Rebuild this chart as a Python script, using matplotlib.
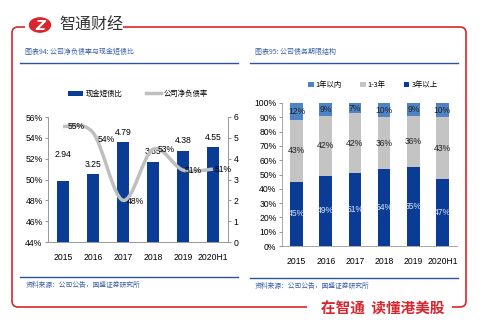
import numpy as np
import matplotlib
matplotlib.use("Agg")
import matplotlib.pyplot as plt
from matplotlib.path import Path
from matplotlib.patches import PathPatch, Circle

plt.rcParams['font.family'] = ['Liberation Sans', 'Noto Sans CJK SC', 'DejaVu Sans']

# left chart: cash / short-term debt ratio and net gearing
years = ['2015', '2016', '2017', '2018', '2019', '2020H1']
cash_ratio = [2.94, 3.25, 4.79, 3.85, 4.38, 4.55]
net_debt = [55.1, 54.5, 48.0, 52.9, 50.9, 51.0]
net_debt_labels = ['55%', '54%', '48%', '53%', '51%', '51%']

# right chart: debt maturity structure (%)
within_1y = [12, 9, 7, 10, 9, 10]
one_to_3y = [43, 42, 42, 36, 36, 43]
over_3y = [45, 49, 51, 54, 55, 47]

W, H = 483, 328
DARK = '#0a3c96'
LIGHT = '#4f83c8'
GREY = '#bfbfbf'
RED = '#d7262e'
TITLE_BLUE = '#3a5fa8'
cjk = ['Noto Sans CJK SC', 'DejaVu Sans']

fig = plt.figure(figsize=(W / 100, H / 100), dpi=100)
fig.patch.set_facecolor('white')


def px(x, y):
    return x / W, 1 - y / H


def ax_at(x0, y0, x1, y1):
    return fig.add_axes([x0 / W, 1 - y1 / H, (x1 - x0) / W, (y1 - y0) / H])


def hline(x0, x1, y, color, lw):
    fig.add_artist(plt.Line2D([x0 / W, x1 / W], [1 - y / H, 1 - y / H],
                              color=color, lw=lw, transform=fig.transFigure))


# red frame with rounded corners
codes = [Path.MOVETO, Path.LINETO, Path.CURVE3, Path.CURVE3, Path.LINETO,
         Path.CURVE3, Path.CURVE3, Path.LINETO]
verts = [px(123, 27), px(460, 27), px(466, 27), px(466, 33), px(466, 301),
         px(466, 307), px(460, 307), px(452, 307)]
fig.add_artist(PathPatch(Path(verts, codes), fill=False, ec=RED, lw=1.2,
                         transform=fig.transFigure))
verts = [px(25, 27), px(18, 27), px(12, 27), px(12, 33), px(12, 301),
         px(12, 307), px(18, 307), px(307, 307)]
fig.add_artist(PathPatch(Path(verts, codes), fill=False, ec=RED, lw=1.2,
                         transform=fig.transFigure))

# logo
fig.add_artist(Circle(px(40, 25), 10.5 / W, color=RED, transform=fig.transFigure))
fig.text(*px(40, 25.5), 'Z', color='white', fontsize=10, fontweight='bold',
         style='italic', ha='center', va='center', family='DejaVu Sans')
fig.text(*px(59, 25), '智通财经', fontsize=11.5, color='#333333', va='center',
         family=cjk)
fig.text(*px(383, 309), '在智通  读懂港美股', fontsize=10.5, color=RED,
         fontweight='bold', ha='center', va='center', family=cjk)

# panel titles, rules and sources
fig.text(*px(25, 52), '图表94: 公司净负债率与现金短债比', fontsize=5,
         color=TITLE_BLUE, va='center', family=cjk, style='italic')
fig.text(*px(255, 52), '图表95: 公司债务期限结构', fontsize=5,
         color=TITLE_BLUE, va='center', family=cjk, style='italic')
hline(20, 238, 63, '#2b55a0', 1.0)
hline(250, 458, 63, '#2b55a0', 1.0)
hline(20, 238, 277, '#2b55a0', 1.0)
hline(250, 458, 278, '#2b55a0', 1.0)
fig.text(*px(26, 285), '资料来源：公司公告，国盛证券研究所', fontsize=4.9,
         color=TITLE_BLUE, va='center', family=cjk, style='italic')
fig.text(*px(255, 286), '资料来源：公司公告，国盛证券研究所', fontsize=4.9,
         color=TITLE_BLUE, va='center', family=cjk, style='italic')

x = np.arange(len(years))
tick_fs = 6.2

# ---- left chart ----
axl = ax_at(48, 117, 228, 242)
axr = axl.twinx()
axl.set_zorder(axr.get_zorder() + 1)
axl.patch.set_visible(False)

axr.bar(x, cash_ratio, width=0.42, color=DARK, label='现金短债比')
axr.set_ylim(0, 6)
axr.set_yticks(range(0, 7))
bar_offsets = [26, 10, 10, 10, 10, 10]
for xi, v, off in zip(x, cash_ratio, bar_offsets):
    axr.annotate(f'{v:.2f}', (xi, v), xytext=(0, off), textcoords='offset pixels',
                 ha='center', va='center', fontsize=tick_fs)

# smooth curve through the gearing points (Catmull-Rom as cubic Beziers)
pts = np.column_stack([x, net_debt]).astype(float)
ext = np.vstack([pts[0], pts, pts[-1]])
verts = [tuple(pts[0])]
codes = [Path.MOVETO]
for i in range(len(pts) - 1):
    p0, p1, p2, p3 = ext[i], ext[i + 1], ext[i + 2], ext[i + 3]
    verts += [tuple(p1 + (p2 - p0) / 6), tuple(p2 - (p3 - p1) / 6), tuple(p2)]
    codes += [Path.CURVE4] * 3
axl.add_patch(PathPatch(Path(verts, codes), fill=False, ec=GREY, lw=2.5))
axl.plot([], [], color=GREY, lw=2.5, label='公司净负债率')

offsets = [(13, 0), (13, -7), (12, -1), (13, 0), (10, 0), (10, 0)]
for xi, v, lab, off in zip(x, net_debt, net_debt_labels, offsets):
    axl.annotate(lab, (xi, v), xytext=off, textcoords='offset pixels',
                 ha='center', va='center', fontsize=tick_fs)

axl.set_ylim(44, 56)
axl.set_yticks(range(44, 57, 2))
axl.set_yticklabels([f'{v}%' for v in range(44, 57, 2)])
axl.set_xlim(-0.5, 5.5)
axl.set_xticks(x)
axl.set_xticklabels(years)
for a in (axl, axr):
    a.tick_params(labelsize=tick_fs, length=2, color='#999999', pad=2)
    for s in a.spines.values():
        s.set_color('#999999')
        s.set_linewidth(0.6)
    a.spines['top'].set_visible(False)
axl.tick_params(axis='x', length=0, pad=8)

h1, l1 = axr.get_legend_handles_labels()
h2, l2 = axl.get_legend_handles_labels()
axl.legend(h1 + h2, l1 + l2, loc='center', bbox_to_anchor=(0.5, 1.185),
           ncol=2, frameon=False, handlelength=2.0, handleheight=0.6,
           handletextpad=0.4, columnspacing=3.2,
           prop={'family': cjk, 'size': 5.3})

# ---- right chart ----
ax2 = ax_at(282, 103, 457, 246)
b1 = ax2.bar(x, over_3y, width=0.44, color=DARK, label='3年以上')
b2 = ax2.bar(x, one_to_3y, width=0.44, bottom=over_3y, color='#c4c4c4',
             label='1-3年')
bottom2 = np.add(over_3y, one_to_3y)
b3 = ax2.bar(x, within_1y, width=0.44, bottom=bottom2, color=LIGHT,
             label='1年以内')
for xi in x:
    ax2.text(xi, over_3y[xi] / 2, f'{over_3y[xi]}%', ha='center', va='center',
             fontsize=tick_fs, color='#dce6f5')
    ax2.text(xi, over_3y[xi] + one_to_3y[xi] / 2, f'{one_to_3y[xi]}%',
             ha='center', va='center', fontsize=tick_fs, color='#222222')
    ax2.text(xi, bottom2[xi] + within_1y[xi] / 2, f'{within_1y[xi]}%',
             ha='center', va='center', fontsize=tick_fs, color='#222222')
ax2.set_ylim(0, 100)
ax2.set_yticks(range(0, 101, 10))
ax2.set_yticklabels([f'{v}%' for v in range(0, 101, 10)])
ax2.set_xlim(-0.5, 5.5)
ax2.set_xticks(x)
ax2.set_xticklabels(years)
ax2.tick_params(labelsize=tick_fs, length=2, color='#999999', pad=2)
ax2.tick_params(axis='x', length=0, pad=8)
for s in ('top', 'right'):
    ax2.spines[s].set_visible(False)
for s in ('left', 'bottom'):
    ax2.spines[s].set_color('#999999')
    ax2.spines[s].set_linewidth(0.6)
ax2.legend([b3, b2, b1], ['1年以内', '1-3年', '3年以上'], loc='center',
           bbox_to_anchor=(0.52, 1.125), ncol=3, frameon=False,
           handlelength=0.7, handleheight=0.7, handletextpad=0.3,
           columnspacing=2.5, prop={'family': cjk, 'size': 5.3})

fig.savefig('out.png', dpi=100)
